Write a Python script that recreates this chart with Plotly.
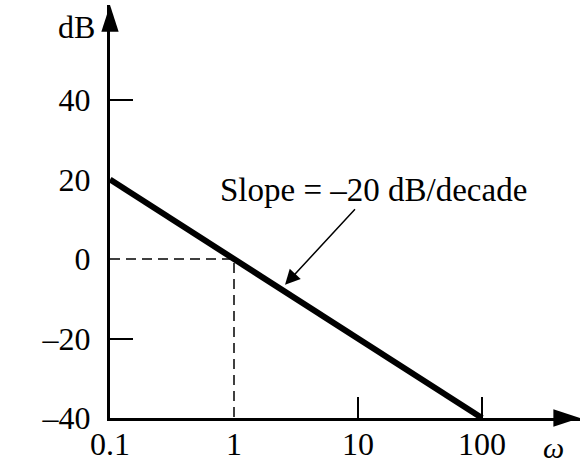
import math
import plotly.graph_objects as go

# ---- data ----
omega = [0.1, 100]            # asymptote endpoints (rad/s)
gain_db = [20, -40]           # magnitude in dB
corner_omega = [0.1, 1, 1]    # dashed guide through the 0 dB crossing
corner_db = [0, 0, -40]
x_tickvals = [0.1, 1, 10, 100]
x_ticktext = ["0.1", "1", "10", "100"]
y_tickvals = [-40, -20, 0, 20, 40]
y_ticktext = ["–40", "–20", "0", "20", "40"]
x_marks = [10, 100]
y_marks = [-20, 40]
slope_label = "Slope = –20 dB/decade"
arrow_omega = 2.58
arrow_db = -6.5

FONT = "Liberation Serif"
FS = 32
W, H = 581, 469
ML, MR, MT, MB = 110, 1, 5, 51
x_range = [-1, -1 + (W - ML - MR) / 124.0]
y_range = [-40, -40 + (H - MT - MB) / 3.975]

fig = go.Figure()

fig.add_trace(go.Scatter(
    x=corner_omega, y=corner_db, mode="lines",
    line=dict(color="black", width=1.5, dash="10px,6px"),
    hoverinfo="skip", showlegend=False))

fig.add_trace(go.Scatter(
    x=omega, y=gain_db, mode="lines",
    line=dict(color="black", width=6),
    showlegend=False))

# axis arrowheads at the ends of the axes
fig.add_trace(go.Scatter(
    x=[10 ** x_range[0]], y=[y_range[1]], mode="markers",
    marker=dict(symbol="arrow", size=28, color="black", angle=0,
                line=dict(width=0)),
    cliponaxis=False, hoverinfo="skip", showlegend=False))
fig.add_trace(go.Scatter(
    x=[10 ** x_range[1]], y=[y_range[0]], mode="markers",
    marker=dict(symbol="arrow", size=28, color="black", angle=90,
                line=dict(width=0)),
    cliponaxis=False, hoverinfo="skip", showlegend=False))

fig.add_annotation(
    x=math.log10(arrow_omega), y=arrow_db, xref="x", yref="y",
    text=slope_label, showarrow=True, ax=88, ay=-95,
    arrowhead=2, arrowsize=2, arrowwidth=1.5, arrowcolor="black",
    font=dict(family=FONT, size=33, color="black"))

fig.add_annotation(x=0, y=1, xref="paper", yref="paper",
                   xanchor="right", yanchor="middle", text="dB",
                   xshift=-13, yshift=-22, showarrow=False,
                   font=dict(family=FONT, size=FS, color="black"))
fig.add_annotation(x=1, y=0, xref="paper", yref="paper",
                   text="<i>ω</i>", showarrow=False,
                   xanchor="right", yanchor="top", xshift=-14, yshift=-11,
                   font=dict(family=FONT, size=30, color="black"))

fig.update_layout(
    width=W, height=H,
    margin=dict(l=ML, r=MR, t=MT, b=MB, autoexpand=False),
    paper_bgcolor="white", plot_bgcolor="white",
    showlegend=False,
    xaxis=dict(type="log", range=x_range, showgrid=False, zeroline=False,
               automargin=False,
               showline=True, linecolor="black", linewidth=3,
               tickmode="array", tickvals=x_tickvals, ticktext=x_ticktext,
               ticks="", ticklabelstandoff=-4,
               tickfont=dict(family=FONT, size=FS, color="black"),
               minor=dict(tickmode="array", tickvals=x_marks, ticks="inside",
                          ticklen=21, tickwidth=2, tickcolor="black",
                          showgrid=False)),
    yaxis=dict(range=y_range, showgrid=False, zeroline=False,
               automargin=False,
               showline=True, linecolor="black", linewidth=3,
               tickmode="array", tickvals=y_tickvals, ticktext=y_ticktext,
               ticks="", ticklabelstandoff=10,
               tickfont=dict(family=FONT, size=FS, color="black"),
               minor=dict(tickmode="array", tickvals=y_marks, ticks="inside",
                          ticklen=23, tickwidth=2, tickcolor="black",
                          showgrid=False)),
)

fig.write_html("out.html", config={"displayModeBar": False},
               post_script="document.body.style.margin='0';")
